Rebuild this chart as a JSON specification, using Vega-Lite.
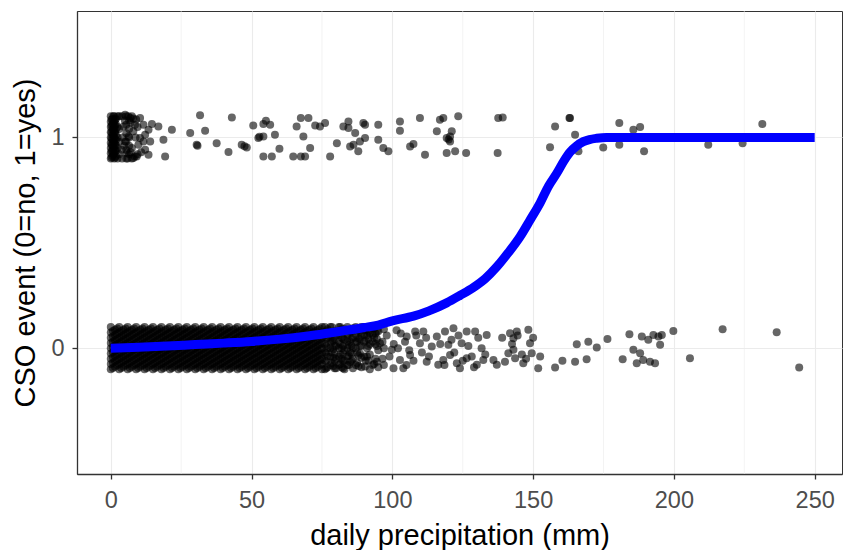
{
"$schema":"https://vega.github.io/schema/vega-lite/v6.json",
"width":765,"height":463,
"padding":{"left":77,"top":11,"right":1,"bottom":76},
"autosize":{"type":"none"},
"background":"white",
"config":{"view":{"stroke":"#333333","strokeWidth":1},"font":"Liberation Sans",
"axis":{"domainColor":"#333333","domainWidth":1.3,"tickColor":"#333333","tickWidth":1.3,"tickSize":5,"labelColor":"#4d4d4d","labelFontSize":23.5,"labelFont":"Liberation Sans","titleFont":"Liberation Sans","titleFontSize":29,"titleFontWeight":"normal","titleColor":"#000000","gridColor":"#ebebeb","gridWidth":1.1}},
"datasets":{
"minor":[{"p":25},{"p":75},{"p":125},{"p":175},{"p":225}],
"fit":[{"p":0,"e":0},{"p":10,"e":0.004},{"p":20,"e":0.01},{"p":30,"e":0.017},{"p":40,"e":0.024},{"p":50,"e":0.032},{"p":60,"e":0.043},{"p":70,"e":0.058},{"p":80,"e":0.077},{"p":90,"e":0.098},{"p":95,"e":0.11},{"p":100,"e":0.13},{"p":107.5,"e":0.152},{"p":113,"e":0.177},{"p":119.3,"e":0.215},{"p":124,"e":0.25},{"p":128.8,"e":0.288},{"p":133,"e":0.33},{"p":137.1,"e":0.386},{"p":141,"e":0.45},{"p":145.4,"e":0.53},{"p":149,"e":0.61},{"p":152.5,"e":0.69},{"p":155.5,"e":0.77},{"p":158.4,"e":0.83},{"p":161,"e":0.89},{"p":163.1,"e":0.93},{"p":165.5,"e":0.96},{"p":167.8,"e":0.98},{"p":170,"e":0.99},{"p":172.6,"e":0.996},{"p":176,"e":1},{"p":200,"e":1},{"p":250,"e":1}],
"obs":[
{"p":0,"e":-0.1},{"p":0,"e":-0.075},{"p":0,"e":-0.05},{"p":0,"e":-0.025},{"p":0,"e":0},{"p":0,"e":0.025},{"p":0,"e":0.05},{"p":0,"e":0.075},{"p":0,"e":0.1},
{"p":3,"e":-0.1},{"p":3,"e":-0.075},{"p":3,"e":-0.05},{"p":3,"e":-0.025},{"p":3,"e":0},{"p":3,"e":0.025},{"p":3,"e":0.05},{"p":3,"e":0.075},{"p":3,"e":0.1},
{"p":6,"e":-0.1},{"p":6,"e":-0.075},{"p":6,"e":-0.05},{"p":6,"e":-0.025},{"p":6,"e":0},{"p":6,"e":0.025},{"p":6,"e":0.05},{"p":6,"e":0.075},{"p":6,"e":0.1},
{"p":9,"e":-0.1},{"p":9,"e":-0.075},{"p":9,"e":-0.05},{"p":9,"e":-0.025},{"p":9,"e":0},{"p":9,"e":0.025},{"p":9,"e":0.05},{"p":9,"e":0.075},{"p":9,"e":0.1},
{"p":12,"e":-0.1},{"p":12,"e":-0.075},{"p":12,"e":-0.05},{"p":12,"e":-0.025},{"p":12,"e":0},{"p":12,"e":0.025},{"p":12,"e":0.05},{"p":12,"e":0.075},{"p":12,"e":0.1},
{"p":15,"e":-0.1},{"p":15,"e":-0.075},{"p":15,"e":-0.05},{"p":15,"e":-0.025},{"p":15,"e":0},{"p":15,"e":0.025},{"p":15,"e":0.05},{"p":15,"e":0.075},{"p":15,"e":0.1},
{"p":18,"e":-0.1},{"p":18,"e":-0.075},{"p":18,"e":-0.05},{"p":18,"e":-0.025},{"p":18,"e":0},{"p":18,"e":0.025},{"p":18,"e":0.05},{"p":18,"e":0.075},{"p":18,"e":0.1},
{"p":21,"e":-0.1},{"p":21,"e":-0.075},{"p":21,"e":-0.05},{"p":21,"e":-0.025},{"p":21,"e":0},{"p":21,"e":0.025},{"p":21,"e":0.05},{"p":21,"e":0.075},{"p":21,"e":0.1},
{"p":24,"e":-0.1},{"p":24,"e":-0.075},{"p":24,"e":-0.05},{"p":24,"e":-0.025},{"p":24,"e":0},{"p":24,"e":0.025},{"p":24,"e":0.05},{"p":24,"e":0.075},{"p":24,"e":0.1},
{"p":27,"e":-0.1},{"p":27,"e":-0.075},{"p":27,"e":-0.05},{"p":27,"e":-0.025},{"p":27,"e":0},{"p":27,"e":0.025},{"p":27,"e":0.05},{"p":27,"e":0.075},{"p":27,"e":0.1},
{"p":30,"e":-0.1},{"p":30,"e":-0.075},{"p":30,"e":-0.05},{"p":30,"e":-0.025},{"p":30,"e":0},{"p":30,"e":0.025},{"p":30,"e":0.05},{"p":30,"e":0.075},{"p":30,"e":0.1},
{"p":33,"e":-0.1},{"p":33,"e":-0.075},{"p":33,"e":-0.05},{"p":33,"e":-0.025},{"p":33,"e":0},{"p":33,"e":0.025},{"p":33,"e":0.05},{"p":33,"e":0.075},{"p":33,"e":0.1},
{"p":36,"e":-0.1},{"p":36,"e":-0.075},{"p":36,"e":-0.05},{"p":36,"e":-0.025},{"p":36,"e":0},{"p":36,"e":0.025},{"p":36,"e":0.05},{"p":36,"e":0.075},{"p":36,"e":0.1},
{"p":39,"e":-0.1},{"p":39,"e":-0.075},{"p":39,"e":-0.05},{"p":39,"e":-0.025},{"p":39,"e":0},{"p":39,"e":0.025},{"p":39,"e":0.05},{"p":39,"e":0.075},{"p":39,"e":0.1},
{"p":42,"e":-0.1},{"p":42,"e":-0.075},{"p":42,"e":-0.05},{"p":42,"e":-0.025},{"p":42,"e":0},{"p":42,"e":0.025},{"p":42,"e":0.05},{"p":42,"e":0.075},{"p":42,"e":0.1},
{"p":45,"e":-0.1},{"p":45,"e":-0.075},{"p":45,"e":-0.05},{"p":45,"e":-0.025},{"p":45,"e":0},{"p":45,"e":0.025},{"p":45,"e":0.05},{"p":45,"e":0.075},{"p":45,"e":0.1},
{"p":48,"e":-0.1},{"p":48,"e":-0.075},{"p":48,"e":-0.05},{"p":48,"e":-0.025},{"p":48,"e":0},{"p":48,"e":0.025},{"p":48,"e":0.05},{"p":48,"e":0.075},{"p":48,"e":0.1},
{"p":51,"e":-0.1},{"p":51,"e":-0.075},{"p":51,"e":-0.05},{"p":51,"e":-0.025},{"p":51,"e":0},{"p":51,"e":0.025},{"p":51,"e":0.05},{"p":51,"e":0.075},{"p":51,"e":0.1},
{"p":54,"e":-0.1},{"p":54,"e":-0.075},{"p":54,"e":-0.05},{"p":54,"e":-0.025},{"p":54,"e":0},{"p":54,"e":0.025},{"p":54,"e":0.05},{"p":54,"e":0.075},{"p":54,"e":0.1},
{"p":57,"e":-0.1},{"p":57,"e":-0.075},{"p":57,"e":-0.05},{"p":57,"e":-0.025},{"p":57,"e":0},{"p":57,"e":0.025},{"p":57,"e":0.05},{"p":57,"e":0.075},{"p":57,"e":0.1},
{"p":60,"e":-0.1},{"p":60,"e":-0.075},{"p":60,"e":-0.05},{"p":60,"e":-0.025},{"p":60,"e":0},{"p":60,"e":0.025},{"p":60,"e":0.05},{"p":60,"e":0.075},{"p":60,"e":0.1},
{"p":63,"e":-0.1},{"p":63,"e":-0.075},{"p":63,"e":-0.05},{"p":63,"e":-0.025},{"p":63,"e":0},{"p":63,"e":0.025},{"p":63,"e":0.05},{"p":63,"e":0.075},{"p":63,"e":0.1},
{"p":66,"e":-0.1},{"p":66,"e":-0.075},{"p":66,"e":-0.05},{"p":66,"e":-0.025},{"p":66,"e":0},{"p":66,"e":0.025},{"p":66,"e":0.05},{"p":66,"e":0.075},{"p":66,"e":0.1},
{"p":69,"e":-0.1},{"p":69,"e":-0.075},{"p":69,"e":-0.05},{"p":69,"e":-0.025},{"p":69,"e":0},{"p":69,"e":0.025},{"p":69,"e":0.05},{"p":69,"e":0.075},{"p":69,"e":0.1},
{"p":72,"e":-0.1},{"p":72,"e":-0.075},{"p":72,"e":-0.05},{"p":72,"e":-0.025},{"p":72,"e":0},{"p":72,"e":0.025},{"p":72,"e":0.05},{"p":72,"e":0.075},{"p":72,"e":0.1},
{"p":75,"e":-0.1},{"p":75,"e":-0.075},{"p":75,"e":-0.05},{"p":75,"e":-0.025},{"p":75,"e":0},{"p":75,"e":0.025},{"p":75,"e":0.05},{"p":75,"e":0.075},{"p":75,"e":0.1},
{"p":1.5,"e":-0.0875},{"p":1.5,"e":-0.0625},{"p":1.5,"e":-0.0375},{"p":1.5,"e":-0.0125},{"p":1.5,"e":0.0125},{"p":1.5,"e":0.0375},{"p":1.5,"e":0.0625},{"p":1.5,"e":0.0875},
{"p":4.5,"e":-0.0875},{"p":4.5,"e":-0.0625},{"p":4.5,"e":-0.0375},{"p":4.5,"e":-0.0125},{"p":4.5,"e":0.0125},{"p":4.5,"e":0.0375},{"p":4.5,"e":0.0625},{"p":4.5,"e":0.0875},
{"p":7.5,"e":-0.0875},{"p":7.5,"e":-0.0625},{"p":7.5,"e":-0.0375},{"p":7.5,"e":-0.0125},{"p":7.5,"e":0.0125},{"p":7.5,"e":0.0375},{"p":7.5,"e":0.0625},{"p":7.5,"e":0.0875},
{"p":10.5,"e":-0.0875},{"p":10.5,"e":-0.0625},{"p":10.5,"e":-0.0375},{"p":10.5,"e":-0.0125},{"p":10.5,"e":0.0125},{"p":10.5,"e":0.0375},{"p":10.5,"e":0.0625},{"p":10.5,"e":0.0875},
{"p":13.5,"e":-0.0875},{"p":13.5,"e":-0.0625},{"p":13.5,"e":-0.0375},{"p":13.5,"e":-0.0125},{"p":13.5,"e":0.0125},{"p":13.5,"e":0.0375},{"p":13.5,"e":0.0625},{"p":13.5,"e":0.0875},
{"p":16.5,"e":-0.0875},{"p":16.5,"e":-0.0625},{"p":16.5,"e":-0.0375},{"p":16.5,"e":-0.0125},{"p":16.5,"e":0.0125},{"p":16.5,"e":0.0375},{"p":16.5,"e":0.0625},{"p":16.5,"e":0.0875},
{"p":19.5,"e":-0.0875},{"p":19.5,"e":-0.0625},{"p":19.5,"e":-0.0375},{"p":19.5,"e":-0.0125},{"p":19.5,"e":0.0125},{"p":19.5,"e":0.0375},{"p":19.5,"e":0.0625},{"p":19.5,"e":0.0875},
{"p":22.5,"e":-0.0875},{"p":22.5,"e":-0.0625},{"p":22.5,"e":-0.0375},{"p":22.5,"e":-0.0125},{"p":22.5,"e":0.0125},{"p":22.5,"e":0.0375},{"p":22.5,"e":0.0625},{"p":22.5,"e":0.0875},
{"p":25.5,"e":-0.0875},{"p":25.5,"e":-0.0625},{"p":25.5,"e":-0.0375},{"p":25.5,"e":-0.0125},{"p":25.5,"e":0.0125},{"p":25.5,"e":0.0375},{"p":25.5,"e":0.0625},{"p":25.5,"e":0.0875},
{"p":28.5,"e":-0.0875},{"p":28.5,"e":-0.0625},{"p":28.5,"e":-0.0375},{"p":28.5,"e":-0.0125},{"p":28.5,"e":0.0125},{"p":28.5,"e":0.0375},{"p":28.5,"e":0.0625},{"p":28.5,"e":0.0875},
{"p":31.5,"e":-0.0875},{"p":31.5,"e":-0.0625},{"p":31.5,"e":-0.0375},{"p":31.5,"e":-0.0125},{"p":31.5,"e":0.0125},{"p":31.5,"e":0.0375},{"p":31.5,"e":0.0625},{"p":31.5,"e":0.0875},
{"p":34.5,"e":-0.0875},{"p":34.5,"e":-0.0625},{"p":34.5,"e":-0.0375},{"p":34.5,"e":-0.0125},{"p":34.5,"e":0.0125},{"p":34.5,"e":0.0375},{"p":34.5,"e":0.0625},{"p":34.5,"e":0.0875},
{"p":37.5,"e":-0.0875},{"p":37.5,"e":-0.0625},{"p":37.5,"e":-0.0375},{"p":37.5,"e":-0.0125},{"p":37.5,"e":0.0125},{"p":37.5,"e":0.0375},{"p":37.5,"e":0.0625},{"p":37.5,"e":0.0875},
{"p":40.5,"e":-0.0875},{"p":40.5,"e":-0.0625},{"p":40.5,"e":-0.0375},{"p":40.5,"e":-0.0125},{"p":40.5,"e":0.0125},{"p":40.5,"e":0.0375},{"p":40.5,"e":0.0625},{"p":40.5,"e":0.0875},
{"p":43.5,"e":-0.0875},{"p":43.5,"e":-0.0625},{"p":43.5,"e":-0.0375},{"p":43.5,"e":-0.0125},{"p":43.5,"e":0.0125},{"p":43.5,"e":0.0375},{"p":43.5,"e":0.0625},{"p":43.5,"e":0.0875},
{"p":46.5,"e":-0.0875},{"p":46.5,"e":-0.0625},{"p":46.5,"e":-0.0375},{"p":46.5,"e":-0.0125},{"p":46.5,"e":0.0125},{"p":46.5,"e":0.0375},{"p":46.5,"e":0.0625},{"p":46.5,"e":0.0875},
{"p":49.5,"e":-0.0875},{"p":49.5,"e":-0.0625},{"p":49.5,"e":-0.0375},{"p":49.5,"e":-0.0125},{"p":49.5,"e":0.0125},{"p":49.5,"e":0.0375},{"p":49.5,"e":0.0625},{"p":49.5,"e":0.0875},
{"p":52.5,"e":-0.0875},{"p":52.5,"e":-0.0625},{"p":52.5,"e":-0.0375},{"p":52.5,"e":-0.0125},{"p":52.5,"e":0.0125},{"p":52.5,"e":0.0375},{"p":52.5,"e":0.0625},{"p":52.5,"e":0.0875},
{"p":55.5,"e":-0.0875},{"p":55.5,"e":-0.0625},{"p":55.5,"e":-0.0375},{"p":55.5,"e":-0.0125},{"p":55.5,"e":0.0125},{"p":55.5,"e":0.0375},{"p":55.5,"e":0.0625},{"p":55.5,"e":0.0875},
{"p":58.5,"e":-0.0875},{"p":58.5,"e":-0.0625},{"p":58.5,"e":-0.0375},{"p":58.5,"e":-0.0125},{"p":58.5,"e":0.0125},{"p":58.5,"e":0.0375},{"p":58.5,"e":0.0625},{"p":58.5,"e":0.0875},
{"p":61.5,"e":-0.0875},{"p":61.5,"e":-0.0625},{"p":61.5,"e":-0.0375},{"p":61.5,"e":-0.0125},{"p":61.5,"e":0.0125},{"p":61.5,"e":0.0375},{"p":61.5,"e":0.0625},{"p":61.5,"e":0.0875},
{"p":64.5,"e":-0.0875},{"p":64.5,"e":-0.0625},{"p":64.5,"e":-0.0375},{"p":64.5,"e":-0.0125},{"p":64.5,"e":0.0125},{"p":64.5,"e":0.0375},{"p":64.5,"e":0.0625},{"p":64.5,"e":0.0875},
{"p":67.5,"e":-0.0875},{"p":67.5,"e":-0.0625},{"p":67.5,"e":-0.0375},{"p":67.5,"e":-0.0125},{"p":67.5,"e":0.0125},{"p":67.5,"e":0.0375},{"p":67.5,"e":0.0625},{"p":67.5,"e":0.0875},
{"p":70.5,"e":-0.0875},{"p":70.5,"e":-0.0625},{"p":70.5,"e":-0.0375},{"p":70.5,"e":-0.0125},{"p":70.5,"e":0.0125},{"p":70.5,"e":0.0375},{"p":70.5,"e":0.0625},{"p":70.5,"e":0.0875},
{"p":73.5,"e":-0.0875},{"p":73.5,"e":-0.0625},{"p":73.5,"e":-0.0375},{"p":73.5,"e":-0.0125},{"p":73.5,"e":0.0125},{"p":73.5,"e":0.0375},{"p":73.5,"e":0.0625},{"p":73.5,"e":0.0875},
{"p":0.75,"e":-0.094},{"p":0.75,"e":-0.069},{"p":0.75,"e":-0.044},{"p":0.75,"e":-0.019},{"p":0.75,"e":0.006},{"p":0.75,"e":0.031},{"p":0.75,"e":0.056},{"p":0.75,"e":0.081},
{"p":2.25,"e":-0.081},{"p":2.25,"e":-0.056},{"p":2.25,"e":-0.031},{"p":2.25,"e":-0.006},{"p":2.25,"e":0.019},{"p":2.25,"e":0.044},{"p":2.25,"e":0.069},{"p":2.25,"e":0.094},
{"p":3.75,"e":-0.094},{"p":3.75,"e":-0.069},{"p":3.75,"e":-0.044},{"p":3.75,"e":-0.019},{"p":3.75,"e":0.006},{"p":3.75,"e":0.031},{"p":3.75,"e":0.056},{"p":3.75,"e":0.081},
{"p":5.25,"e":-0.081},{"p":5.25,"e":-0.056},{"p":5.25,"e":-0.031},{"p":5.25,"e":-0.006},{"p":5.25,"e":0.019},{"p":5.25,"e":0.044},{"p":5.25,"e":0.069},{"p":5.25,"e":0.094},
{"p":6.75,"e":-0.094},{"p":6.75,"e":-0.069},{"p":6.75,"e":-0.044},{"p":6.75,"e":-0.019},{"p":6.75,"e":0.006},{"p":6.75,"e":0.031},{"p":6.75,"e":0.056},{"p":6.75,"e":0.081},
{"p":8.25,"e":-0.081},{"p":8.25,"e":-0.056},{"p":8.25,"e":-0.031},{"p":8.25,"e":-0.006},{"p":8.25,"e":0.019},{"p":8.25,"e":0.044},{"p":8.25,"e":0.069},{"p":8.25,"e":0.094},
{"p":9.75,"e":-0.094},{"p":9.75,"e":-0.069},{"p":9.75,"e":-0.044},{"p":9.75,"e":-0.019},{"p":9.75,"e":0.006},{"p":9.75,"e":0.031},{"p":9.75,"e":0.056},{"p":9.75,"e":0.081},
{"p":11.25,"e":-0.081},{"p":11.25,"e":-0.056},{"p":11.25,"e":-0.031},{"p":11.25,"e":-0.006},{"p":11.25,"e":0.019},{"p":11.25,"e":0.044},{"p":11.25,"e":0.069},{"p":11.25,"e":0.094},
{"p":12.75,"e":-0.094},{"p":12.75,"e":-0.069},{"p":12.75,"e":-0.044},{"p":12.75,"e":-0.019},{"p":12.75,"e":0.006},{"p":12.75,"e":0.031},{"p":12.75,"e":0.056},{"p":12.75,"e":0.081},
{"p":14.25,"e":-0.081},{"p":14.25,"e":-0.056},{"p":14.25,"e":-0.031},{"p":14.25,"e":-0.006},{"p":14.25,"e":0.019},{"p":14.25,"e":0.044},{"p":14.25,"e":0.069},{"p":14.25,"e":0.094},
{"p":15.75,"e":-0.094},{"p":15.75,"e":-0.069},{"p":15.75,"e":-0.044},{"p":15.75,"e":-0.019},{"p":15.75,"e":0.006},{"p":15.75,"e":0.031},{"p":15.75,"e":0.056},{"p":15.75,"e":0.081},
{"p":17.25,"e":-0.081},{"p":17.25,"e":-0.056},{"p":17.25,"e":-0.031},{"p":17.25,"e":-0.006},{"p":17.25,"e":0.019},{"p":17.25,"e":0.044},{"p":17.25,"e":0.069},{"p":17.25,"e":0.094},
{"p":18.75,"e":-0.094},{"p":18.75,"e":-0.069},{"p":18.75,"e":-0.044},{"p":18.75,"e":-0.019},{"p":18.75,"e":0.006},{"p":18.75,"e":0.031},{"p":18.75,"e":0.056},{"p":18.75,"e":0.081},
{"p":20.25,"e":-0.081},{"p":20.25,"e":-0.056},{"p":20.25,"e":-0.031},{"p":20.25,"e":-0.006},{"p":20.25,"e":0.019},{"p":20.25,"e":0.044},{"p":20.25,"e":0.069},{"p":20.25,"e":0.094},
{"p":21.75,"e":-0.094},{"p":21.75,"e":-0.069},{"p":21.75,"e":-0.044},{"p":21.75,"e":-0.019},{"p":21.75,"e":0.006},{"p":21.75,"e":0.031},{"p":21.75,"e":0.056},{"p":21.75,"e":0.081},
{"p":23.25,"e":-0.081},{"p":23.25,"e":-0.056},{"p":23.25,"e":-0.031},{"p":23.25,"e":-0.006},{"p":23.25,"e":0.019},{"p":23.25,"e":0.044},{"p":23.25,"e":0.069},{"p":23.25,"e":0.094},
{"p":24.75,"e":-0.094},{"p":24.75,"e":-0.069},{"p":24.75,"e":-0.044},{"p":24.75,"e":-0.019},{"p":24.75,"e":0.006},{"p":24.75,"e":0.031},{"p":24.75,"e":0.056},{"p":24.75,"e":0.081},
{"p":26.25,"e":-0.081},{"p":26.25,"e":-0.056},{"p":26.25,"e":-0.031},{"p":26.25,"e":-0.006},{"p":26.25,"e":0.019},{"p":26.25,"e":0.044},{"p":26.25,"e":0.069},{"p":26.25,"e":0.094},
{"p":27.75,"e":-0.094},{"p":27.75,"e":-0.069},{"p":27.75,"e":-0.044},{"p":27.75,"e":-0.019},{"p":27.75,"e":0.006},{"p":27.75,"e":0.031},{"p":27.75,"e":0.056},{"p":27.75,"e":0.081},
{"p":29.25,"e":-0.081},{"p":29.25,"e":-0.056},{"p":29.25,"e":-0.031},{"p":29.25,"e":-0.006},{"p":29.25,"e":0.019},{"p":29.25,"e":0.044},{"p":29.25,"e":0.069},{"p":29.25,"e":0.094},
{"p":30.75,"e":-0.094},{"p":30.75,"e":-0.069},{"p":30.75,"e":-0.044},{"p":30.75,"e":-0.019},{"p":30.75,"e":0.006},{"p":30.75,"e":0.031},{"p":30.75,"e":0.056},{"p":30.75,"e":0.081},
{"p":32.25,"e":-0.081},{"p":32.25,"e":-0.056},{"p":32.25,"e":-0.031},{"p":32.25,"e":-0.006},{"p":32.25,"e":0.019},{"p":32.25,"e":0.044},{"p":32.25,"e":0.069},{"p":32.25,"e":0.094},
{"p":33.75,"e":-0.094},{"p":33.75,"e":-0.069},{"p":33.75,"e":-0.044},{"p":33.75,"e":-0.019},{"p":33.75,"e":0.006},{"p":33.75,"e":0.031},{"p":33.75,"e":0.056},{"p":33.75,"e":0.081},
{"p":35.25,"e":-0.081},{"p":35.25,"e":-0.056},{"p":35.25,"e":-0.031},{"p":35.25,"e":-0.006},{"p":35.25,"e":0.019},{"p":35.25,"e":0.044},{"p":35.25,"e":0.069},{"p":35.25,"e":0.094},
{"p":36.75,"e":-0.094},{"p":36.75,"e":-0.069},{"p":36.75,"e":-0.044},{"p":36.75,"e":-0.019},{"p":36.75,"e":0.006},{"p":36.75,"e":0.031},{"p":36.75,"e":0.056},{"p":36.75,"e":0.081},
{"p":38.25,"e":-0.081},{"p":38.25,"e":-0.056},{"p":38.25,"e":-0.031},{"p":38.25,"e":-0.006},{"p":38.25,"e":0.019},{"p":38.25,"e":0.044},{"p":38.25,"e":0.069},{"p":38.25,"e":0.094},
{"p":39.75,"e":-0.094},{"p":39.75,"e":-0.069},{"p":39.75,"e":-0.044},{"p":39.75,"e":-0.019},{"p":39.75,"e":0.006},{"p":39.75,"e":0.031},{"p":39.75,"e":0.056},{"p":39.75,"e":0.081},
{"p":41.25,"e":-0.081},{"p":41.25,"e":-0.056},{"p":41.25,"e":-0.031},{"p":41.25,"e":-0.006},{"p":41.25,"e":0.019},{"p":41.25,"e":0.044},{"p":41.25,"e":0.069},{"p":41.25,"e":0.094},
{"p":42.75,"e":-0.094},{"p":42.75,"e":-0.069},{"p":42.75,"e":-0.044},{"p":42.75,"e":-0.019},{"p":42.75,"e":0.006},{"p":42.75,"e":0.031},{"p":42.75,"e":0.056},{"p":42.75,"e":0.081},
{"p":44.25,"e":-0.081},{"p":44.25,"e":-0.056},{"p":44.25,"e":-0.031},{"p":44.25,"e":-0.006},{"p":44.25,"e":0.019},{"p":44.25,"e":0.044},{"p":44.25,"e":0.069},{"p":44.25,"e":0.094},
{"p":45.75,"e":-0.094},{"p":45.75,"e":-0.069},{"p":45.75,"e":-0.044},{"p":45.75,"e":-0.019},{"p":45.75,"e":0.006},{"p":45.75,"e":0.031},{"p":45.75,"e":0.056},{"p":45.75,"e":0.081},
{"p":47.25,"e":-0.081},{"p":47.25,"e":-0.056},{"p":47.25,"e":-0.031},{"p":47.25,"e":-0.006},{"p":47.25,"e":0.019},{"p":47.25,"e":0.044},{"p":47.25,"e":0.069},{"p":47.25,"e":0.094},
{"p":48.75,"e":-0.094},{"p":48.75,"e":-0.069},{"p":48.75,"e":-0.044},{"p":48.75,"e":-0.019},{"p":48.75,"e":0.006},{"p":48.75,"e":0.031},{"p":48.75,"e":0.056},{"p":48.75,"e":0.081},
{"p":50.25,"e":-0.081},{"p":50.25,"e":-0.056},{"p":50.25,"e":-0.031},{"p":50.25,"e":-0.006},{"p":50.25,"e":0.019},{"p":50.25,"e":0.044},{"p":50.25,"e":0.069},{"p":50.25,"e":0.094},
{"p":51.75,"e":-0.094},{"p":51.75,"e":-0.069},{"p":51.75,"e":-0.044},{"p":51.75,"e":-0.019},{"p":51.75,"e":0.006},{"p":51.75,"e":0.031},{"p":51.75,"e":0.056},{"p":51.75,"e":0.081},
{"p":53.25,"e":-0.081},{"p":53.25,"e":-0.056},{"p":53.25,"e":-0.031},{"p":53.25,"e":-0.006},{"p":53.25,"e":0.019},{"p":53.25,"e":0.044},{"p":53.25,"e":0.069},{"p":53.25,"e":0.094},
{"p":54.75,"e":-0.094},{"p":54.75,"e":-0.069},{"p":54.75,"e":-0.044},{"p":54.75,"e":-0.019},{"p":54.75,"e":0.006},{"p":54.75,"e":0.031},{"p":54.75,"e":0.056},{"p":54.75,"e":0.081},
{"p":56.25,"e":-0.081},{"p":56.25,"e":-0.056},{"p":56.25,"e":-0.031},{"p":56.25,"e":-0.006},{"p":56.25,"e":0.019},{"p":56.25,"e":0.044},{"p":56.25,"e":0.069},{"p":56.25,"e":0.094},
{"p":57.75,"e":-0.094},{"p":57.75,"e":-0.069},{"p":57.75,"e":-0.044},{"p":57.75,"e":-0.019},{"p":57.75,"e":0.006},{"p":57.75,"e":0.031},{"p":57.75,"e":0.056},{"p":57.75,"e":0.081},
{"p":59.25,"e":-0.081},{"p":59.25,"e":-0.056},{"p":59.25,"e":-0.031},{"p":59.25,"e":-0.006},{"p":59.25,"e":0.019},{"p":59.25,"e":0.044},{"p":59.25,"e":0.069},{"p":59.25,"e":0.094},
{"p":60.75,"e":-0.094},{"p":60.75,"e":-0.069},{"p":60.75,"e":-0.044},{"p":60.75,"e":-0.019},{"p":60.75,"e":0.006},{"p":60.75,"e":0.031},{"p":60.75,"e":0.056},{"p":60.75,"e":0.081},
{"p":62.25,"e":-0.081},{"p":62.25,"e":-0.056},{"p":62.25,"e":-0.031},{"p":62.25,"e":-0.006},{"p":62.25,"e":0.019},{"p":62.25,"e":0.044},{"p":62.25,"e":0.069},{"p":62.25,"e":0.094},
{"p":63.75,"e":-0.094},{"p":63.75,"e":-0.069},{"p":63.75,"e":-0.044},{"p":63.75,"e":-0.019},{"p":63.75,"e":0.006},{"p":63.75,"e":0.031},{"p":63.75,"e":0.056},{"p":63.75,"e":0.081},
{"p":65.25,"e":-0.081},{"p":65.25,"e":-0.056},{"p":65.25,"e":-0.031},{"p":65.25,"e":-0.006},{"p":65.25,"e":0.019},{"p":65.25,"e":0.044},{"p":65.25,"e":0.069},{"p":65.25,"e":0.094},
{"p":66.75,"e":-0.094},{"p":66.75,"e":-0.069},{"p":66.75,"e":-0.044},{"p":66.75,"e":-0.019},{"p":66.75,"e":0.006},{"p":66.75,"e":0.031},{"p":66.75,"e":0.056},{"p":66.75,"e":0.081},
{"p":68.25,"e":-0.081},{"p":68.25,"e":-0.056},{"p":68.25,"e":-0.031},{"p":68.25,"e":-0.006},{"p":68.25,"e":0.019},{"p":68.25,"e":0.044},{"p":68.25,"e":0.069},{"p":68.25,"e":0.094},
{"p":69.75,"e":-0.094},{"p":69.75,"e":-0.069},{"p":69.75,"e":-0.044},{"p":69.75,"e":-0.019},{"p":69.75,"e":0.006},{"p":69.75,"e":0.031},{"p":69.75,"e":0.056},{"p":69.75,"e":0.081},
{"p":71.25,"e":-0.081},{"p":71.25,"e":-0.056},{"p":71.25,"e":-0.031},{"p":71.25,"e":-0.006},{"p":71.25,"e":0.019},{"p":71.25,"e":0.044},{"p":71.25,"e":0.069},{"p":71.25,"e":0.094},
{"p":72.75,"e":-0.094},{"p":72.75,"e":-0.069},{"p":72.75,"e":-0.044},{"p":72.75,"e":-0.019},{"p":72.75,"e":0.006},{"p":72.75,"e":0.031},{"p":72.75,"e":0.056},{"p":72.75,"e":0.081},
{"p":74.25,"e":-0.081},{"p":74.25,"e":-0.056},{"p":74.25,"e":-0.031},{"p":74.25,"e":-0.006},{"p":74.25,"e":0.019},{"p":74.25,"e":0.044},{"p":74.25,"e":0.069},{"p":74.25,"e":0.094},
{"p":76.5,"e":-0.095},{"p":76.5,"e":-0.06},{"p":76.5,"e":-0.025},{"p":76.5,"e":0.01},{"p":76.5,"e":0.045},{"p":76.5,"e":0.08},
{"p":78,"e":-0.08},{"p":78,"e":-0.04},{"p":78,"e":0},{"p":78,"e":0.03},{"p":78,"e":0.065},{"p":78,"e":0.1},
{"p":79.5,"e":-0.095},{"p":79.5,"e":-0.06},{"p":79.5,"e":-0.025},{"p":79.5,"e":0.01},{"p":79.5,"e":0.045},{"p":79.5,"e":0.08},
{"p":81,"e":-0.08},{"p":81,"e":-0.04},{"p":81,"e":0},{"p":81,"e":0.03},{"p":81,"e":0.065},{"p":81,"e":0.1},
{"p":82.5,"e":-0.095},{"p":82.5,"e":-0.06},{"p":82.5,"e":-0.025},{"p":82.5,"e":0.01},{"p":82.5,"e":0.045},{"p":82.5,"e":0.08},
{"p":84,"e":-0.08},{"p":84,"e":-0.04},{"p":84,"e":0},{"p":84,"e":0.03},{"p":84,"e":0.065},{"p":84,"e":0.1},
{"p":85.5,"e":-0.06},{"p":85.5,"e":-0.025},{"p":85.5,"e":0.01},{"p":85.5,"e":0.045},{"p":85.5,"e":0.08},
{"p":87,"e":-0.08},{"p":87,"e":0},{"p":87,"e":0.03},{"p":87,"e":0.065},{"p":87,"e":0.1},
{"p":88.5,"e":-0.025},{"p":88.5,"e":0.01},{"p":88.5,"e":0.045},{"p":88.5,"e":0.08},
{"p":90,"e":-0.04},{"p":90,"e":0.03},{"p":90,"e":0.065},{"p":90,"e":0.1},
{"p":91.5,"e":-0.06},{"p":91.5,"e":0.01},{"p":91.5,"e":0.045},{"p":91.5,"e":0.08},
{"p":93,"e":-0.08},{"p":93,"e":0.03},{"p":93,"e":0.065},{"p":93,"e":0.1},
{"p":94.5,"e":0.01},{"p":94.5,"e":0.045},{"p":94.5,"e":0.08},
{"p":76,"e":-0.1},{"p":76,"e":-0.06},{"p":76,"e":-0.02},{"p":76,"e":0.02},{"p":76,"e":0.06},{"p":76,"e":0.1},
{"p":79,"e":-0.085},{"p":79,"e":-0.045},{"p":79,"e":-0.005},{"p":79,"e":0.035},{"p":79,"e":0.075},
{"p":82,"e":-0.09},{"p":82,"e":-0.05},{"p":82,"e":0},{"p":82,"e":0.05},{"p":82,"e":0.09},
{"p":85,"e":-0.065},{"p":85,"e":-0.02},{"p":85,"e":0.03},{"p":85,"e":0.08},
{"p":88,"e":-0.085},{"p":88,"e":-0.035},{"p":88,"e":0.045},{"p":88,"e":0.09},
{"p":91,"e":-0.04},{"p":91,"e":0},{"p":91,"e":0.06},{"p":91,"e":0.1},
{"p":94,"e":-0.05},{"p":94,"e":0.02},{"p":94,"e":0.07},
{"p":97,"e":-0.08},{"p":97,"e":0},{"p":97,"e":0.09},
{"p":77,"e":-0.09},{"p":77,"e":-0.04},{"p":77,"e":0},{"p":77,"e":0.05},{"p":77,"e":0.09},
{"p":78.5,"e":-0.07},{"p":78.5,"e":-0.02},{"p":78.5,"e":0.03},{"p":78.5,"e":0.07},{"p":78.5,"e":0.1},
{"p":80,"e":-0.095},{"p":80,"e":-0.05},{"p":80,"e":0.01},{"p":80,"e":0.06},
{"p":81.5,"e":-0.075},{"p":81.5,"e":-0.03},{"p":81.5,"e":0.02},{"p":81.5,"e":0.08},{"p":81.5,"e":0.1},
{"p":83,"e":-0.1},{"p":83,"e":-0.06},{"p":83,"e":-0.01},{"p":83,"e":0.04},{"p":83,"e":0.09},
{"p":84.5,"e":-0.08},{"p":84.5,"e":-0.035},{"p":84.5,"e":0.015},{"p":84.5,"e":0.065},
{"p":86,"e":-0.095},{"p":86,"e":-0.05},{"p":86,"e":0},{"p":86,"e":0.05},{"p":86,"e":0.095},
{"p":87.5,"e":-0.07},{"p":87.5,"e":-0.02},{"p":87.5,"e":0.03},{"p":87.5,"e":0.08},
{"p":89,"e":-0.09},{"p":89,"e":-0.045},{"p":89,"e":0.01},{"p":89,"e":0.06},{"p":89,"e":0.1},
{"p":90.5,"e":-0.06},{"p":90.5,"e":0.035},{"p":90.5,"e":0.085},
{"p":92,"e":-0.1},{"p":92,"e":-0.03},{"p":92,"e":0.02},{"p":92,"e":0.07},
{"p":93.5,"e":-0.075},{"p":93.5,"e":0.05},{"p":93.5,"e":0.095},
{"p":95,"e":-0.09},{"p":95,"e":-0.01},{"p":95,"e":0.08},
{"p":96.5,"e":-0.05},{"p":96.5,"e":0.03},
{"p":90.3,"e":-0.087},{"p":94.5,"e":-0.064},{"p":100.4,"e":-0.095},{"p":99.8,"e":-0.008},{"p":103.9,"e":-0.095},{"p":105.1,"e":0.055},{"p":108.1,"e":0.079},{"p":109.8,"e":0.024},{"p":111,"e":0.079},{"p":112.2,"e":-0.064},{"p":114,"e":0.008},{"p":116.3,"e":-0.079},{"p":118.7,"e":0.079},{"p":119.9,"e":0.016},{"p":121.7,"e":0.095},{"p":122.9,"e":-0.071},{"p":124,"e":-0.095},{"p":124.6,"e":0.024},{"p":126.4,"e":0.079},{"p":128.2,"e":-0.04},{"p":129.4,"e":0.079},{"p":130,"e":-0.079},{"p":131.7,"e":0},{"p":133.5,"e":0.063},{"p":135.9,"e":-0.056},{"p":137.1,"e":-0.079},{"p":140,"e":-0.064},{"p":141.8,"e":0.071},{"p":143,"e":-0.008},{"p":143.6,"e":-0.048},{"p":144.2,"e":0.079},{"p":146.5,"e":-0.071},{"p":148.3,"e":0.087},{"p":148.9,"e":0.024},{"p":149.5,"e":-0.024},{"p":151.8,"e":-0.095},{"p":152.5,"e":-0.04},{"p":143,"e":0.047},{"p":141.2,"e":-0.024},{"p":118.1,"e":-0.056},{"p":115.8,"e":0.055},{"p":102.7,"e":-0.056},{"p":95.6,"e":0.024},{"p":106.3,"e":-0.032},{"p":120.5,"e":-0.032},{"p":126.4,"e":-0.048},{"p":132.3,"e":-0.056},
{"p":103,"e":0.07},{"p":104.5,"e":0.03},{"p":106,"e":-0.01},{"p":107.5,"e":-0.06},{"p":105,"e":-0.08},{"p":108.5,"e":0.06},{"p":102,"e":0},{"p":110.5,"e":-0.02},{"p":112,"e":0.05},{"p":113,"e":-0.04},{"p":117,"e":0.02},{"p":118.5,"e":-0.08},{"p":121,"e":0.04},{"p":122,"e":-0.02},{"p":123.5,"e":0.06},{"p":125,"e":-0.06},{"p":127,"e":0.01},{"p":129,"e":-0.09},{"p":130.5,"e":0.05},{"p":133,"e":-0.03},{"p":139,"e":0.05},{"p":142.5,"e":0.02},{"p":144.5,"e":0.06},{"p":146,"e":-0.03},{"p":147.5,"e":-0.05},{"p":150,"e":0.05},{"p":98,"e":0.06},{"p":99,"e":-0.04},{"p":100.5,"e":0.02},{"p":101.5,"e":0.085},
{"p":157.8,"e":-0.092},{"p":160.4,"e":-0.06},{"p":164.9,"e":-0.064},{"p":165.5,"e":0.019},{"p":169.6,"e":0.031},{"p":172.6,"e":0.003},{"p":169,"e":-0.052},{"p":176.4,"e":0.044},{"p":181.8,"e":-0.052},{"p":184.2,"e":0.066},{"p":185.6,"e":-0.008},{"p":186.8,"e":-0.071},{"p":188.6,"e":0.055},{"p":189.1,"e":-0.056},{"p":190.9,"e":0.04},{"p":192.7,"e":0.063},{"p":193.3,"e":-0.071},{"p":195.1,"e":0.016},{"p":195.7,"e":0.063},{"p":188,"e":-0.024},{"p":191.5,"e":-0.064},{"p":194.5,"e":0.055},{"p":199.8,"e":0.082},{"p":205.7,"e":-0.048},{"p":217.3,"e":0.09},{"p":236.5,"e":0.076},{"p":244.5,"e":-0.092},
{"p":0,"e":0.9},{"p":0,"e":0.925},{"p":0,"e":0.95},{"p":0,"e":0.975},{"p":0,"e":1},{"p":0,"e":1.025},{"p":0,"e":1.05},{"p":0,"e":1.075},{"p":0,"e":1.1},
{"p":0.6,"e":0.9125},{"p":0.6,"e":0.9375},{"p":0.6,"e":0.9625},{"p":0.6,"e":0.9875},{"p":0.6,"e":1.0125},{"p":0.6,"e":1.0375},{"p":0.6,"e":1.0625},{"p":0.6,"e":1.0875},
{"p":1.2,"e":0.9},{"p":1.2,"e":0.925},{"p":1.2,"e":0.95},{"p":1.2,"e":0.975},{"p":1.2,"e":1},{"p":1.2,"e":1.025},{"p":1.2,"e":1.05},{"p":1.2,"e":1.075},{"p":1.2,"e":1.1},
{"p":1.8,"e":0.9125},{"p":1.8,"e":0.9375},{"p":1.8,"e":0.9625},{"p":1.8,"e":0.9875},{"p":1.8,"e":1.0125},{"p":1.8,"e":1.0375},{"p":1.8,"e":1.0625},{"p":1.8,"e":1.0875},
{"p":0.3,"e":0.905},{"p":0.3,"e":0.935},{"p":0.3,"e":0.965},{"p":0.3,"e":0.995},{"p":0.3,"e":1.025},{"p":0.3,"e":1.055},{"p":0.3,"e":1.085},
{"p":0.9,"e":0.92},{"p":0.9,"e":0.95},{"p":0.9,"e":0.98},{"p":0.9,"e":1.01},{"p":0.9,"e":1.04},{"p":0.9,"e":1.07},{"p":0.9,"e":1.1},
{"p":1.5,"e":0.905},{"p":1.5,"e":0.935},{"p":1.5,"e":0.965},{"p":1.5,"e":0.995},{"p":1.5,"e":1.025},{"p":1.5,"e":1.055},{"p":1.5,"e":1.085},
{"p":2.4,"e":0.9},{"p":2.4,"e":0.95},{"p":2.4,"e":1},{"p":2.4,"e":1.05},{"p":2.4,"e":1.1},
{"p":3,"e":0.92},{"p":3,"e":0.98},{"p":3,"e":1.04},{"p":3,"e":1.1},
{"p":5.5,"e":0.9},{"p":5.5,"e":0.94},{"p":5.5,"e":0.98},{"p":5.5,"e":1.02},{"p":5.5,"e":1.06},{"p":5.5,"e":1.1},
{"p":6.5,"e":0.92},{"p":6.5,"e":0.96},{"p":6.5,"e":1},{"p":6.5,"e":1.04},{"p":6.5,"e":1.08},
{"p":8,"e":1.09},{"p":9,"e":1.085},{"p":8.5,"e":0.91},{"p":9.5,"e":0.92},{"p":7.5,"e":1.1},{"p":7.5,"e":0.9},
{"p":4,"e":0.9},{"p":4.2,"e":1},{"p":4.8,"e":0.96},{"p":5,"e":1.08},{"p":6,"e":0.9},{"p":7,"e":0.93},{"p":7,"e":1.07},{"p":8.8,"e":1},{"p":9.5,"e":1.05},{"p":10.8,"e":0.93},{"p":4,"e":1.1},{"p":6.2,"e":1.1},
{"p":5.1,"e":0.981},{"p":6.9,"e":1.092},{"p":8,"e":1.029},{"p":10.4,"e":1.092},{"p":10.4,"e":0.997},{"p":13.4,"e":1.037},{"p":9.2,"e":0.91},{"p":7.5,"e":0.95},{"p":12.2,"e":0.942},{"p":4.5,"e":1.052},{"p":5.7,"e":0.926},{"p":8.6,"e":1.06},{"p":11.6,"e":1.06},{"p":6.3,"e":1.005},{"p":9.8,"e":0.965},{"p":3.9,"e":0.942},{"p":11.6,"e":0.981},{"p":14,"e":0.981},{"p":8,"e":0.902},{"p":5.1,"e":1.108},
{"p":14.6,"e":1.064},{"p":16.9,"e":1.052},{"p":18.7,"e":0.989},{"p":19.3,"e":0.91},{"p":21.7,"e":1.037},{"p":13.4,"e":0.918},{"p":12.2,"e":1.013},{"p":28.2,"e":1.021},{"p":31.7,"e":1.105},{"p":30.5,"e":0.965},{"p":30.8,"e":0.96},{"p":33.5,"e":1.032},{"p":37.6,"e":0.973},{"p":41.8,"e":0.931},{"p":43,"e":1.095},{"p":46.5,"e":0.965},{"p":47.5,"e":0.958},{"p":48.3,"e":0.952},{"p":50.6,"e":1.057},{"p":54.2,"e":1.005},{"p":55.1,"e":1.079},{"p":56.6,"e":1.06},{"p":54.2,"e":0.91},{"p":57.2,"e":0.91},{"p":58.3,"e":1.013},{"p":59.9,"e":0.946},{"p":64.8,"e":0.91},{"p":66,"e":1.052},{"p":67.5,"e":1.092},{"p":70.2,"e":1.092},{"p":68.4,"e":1.005},{"p":69,"e":0.91},{"p":70.8,"e":0.95},{"p":72.6,"e":1.057},{"p":76.1,"e":1.068},{"p":74.3,"e":1.052},{"p":77.9,"e":0.91},{"p":80.3,"e":0.973},{"p":67.5,"e":0.91},{"p":52.4,"e":0.997},{"p":52.8,"e":1.003},{"p":54.2,"e":1.064},
{"p":84.4,"e":1.076},{"p":84.4,"e":1.045},{"p":85,"e":0.957},{"p":86.8,"e":1.021},{"p":87.9,"e":0.934},{"p":88.5,"e":0.981},{"p":89.7,"e":1.068},{"p":90.3,"e":1.06},{"p":90.3,"e":0.997},{"p":95,"e":1.06},{"p":95,"e":0.989},{"p":96.8,"e":0.95},{"p":98.6,"e":0.934},{"p":102.7,"e":1.076},{"p":102.7,"e":1.032},{"p":106.3,"e":0.957},{"p":107.5,"e":0.969},{"p":109.8,"e":1.092},{"p":111.6,"e":0.918},{"p":115.8,"e":1.029},{"p":116.9,"e":1.084},{"p":118.1,"e":1.092},{"p":119.3,"e":0.997},{"p":120.5,"e":0.981},{"p":121.1,"e":1.029},{"p":119.3,"e":0.926},{"p":122.3,"e":0.934},{"p":123.4,"e":1.1},{"p":126.2,"e":0.926},{"p":137.6,"e":1.092},{"p":139.2,"e":1.095},{"p":137.4,"e":0.926},{"p":157.8,"e":1.052},{"p":162.9,"e":1.092},{"p":156,"e":0.954},{"p":86.2,"e":0.965},{"p":82.6,"e":1.052},{"p":120.5,"e":1.005},{"p":120,"e":0.99},
{"p":163.1,"e":1.092},{"p":164.9,"e":1.013},{"p":166.1,"e":0.934},{"p":174.9,"e":0.952},{"p":180.6,"e":1.068},{"p":180.6,"e":0.965},{"p":185.6,"e":1.037},{"p":188,"e":1.049},{"p":189.4,"e":0.934},{"p":212.2,"e":0.965},{"p":224.4,"e":0.973},{"p":231.4,"e":1.064}
]},
"layer":[
{"data":{"name":"minor"},"mark":{"type":"rule","color":"#ebebeb","strokeWidth":0.6},
 "encoding":{"x":{"field":"p","type":"quantitative","title":"daily precipitation (mm)","scale":{"domain":[-12,259.7],"nice":false,"zero":false},"axis":{"values":[0,50,100,150,200,250],"format":"d","labelPadding":9,"titlePadding":10,"grid":true}}}},
{"data":{"name":"obs"},"mark":{"type":"circle","size":64,"color":"#000000","opacity":0.6},
 "encoding":{"x":{"field":"p","type":"quantitative","title":"daily precipitation (mm)"},
  "y":{"field":"e","type":"quantitative","title":"CSO event (0=no, 1=yes)","scale":{"domain":[-0.597,1.6],"nice":false,"zero":false},"axis":{"values":[0,1],"format":"d","labelPadding":8,"titlePadding":10,"grid":true}}}},
{"data":{"name":"fit"},"mark":{"type":"line","color":"#0000ff","strokeWidth":9,"interpolate":"monotone","strokeCap":"butt"},
 "encoding":{"x":{"field":"p","type":"quantitative","title":"daily precipitation (mm)"},"y":{"field":"e","type":"quantitative","title":"CSO event (0=no, 1=yes)"}}}
]
}
